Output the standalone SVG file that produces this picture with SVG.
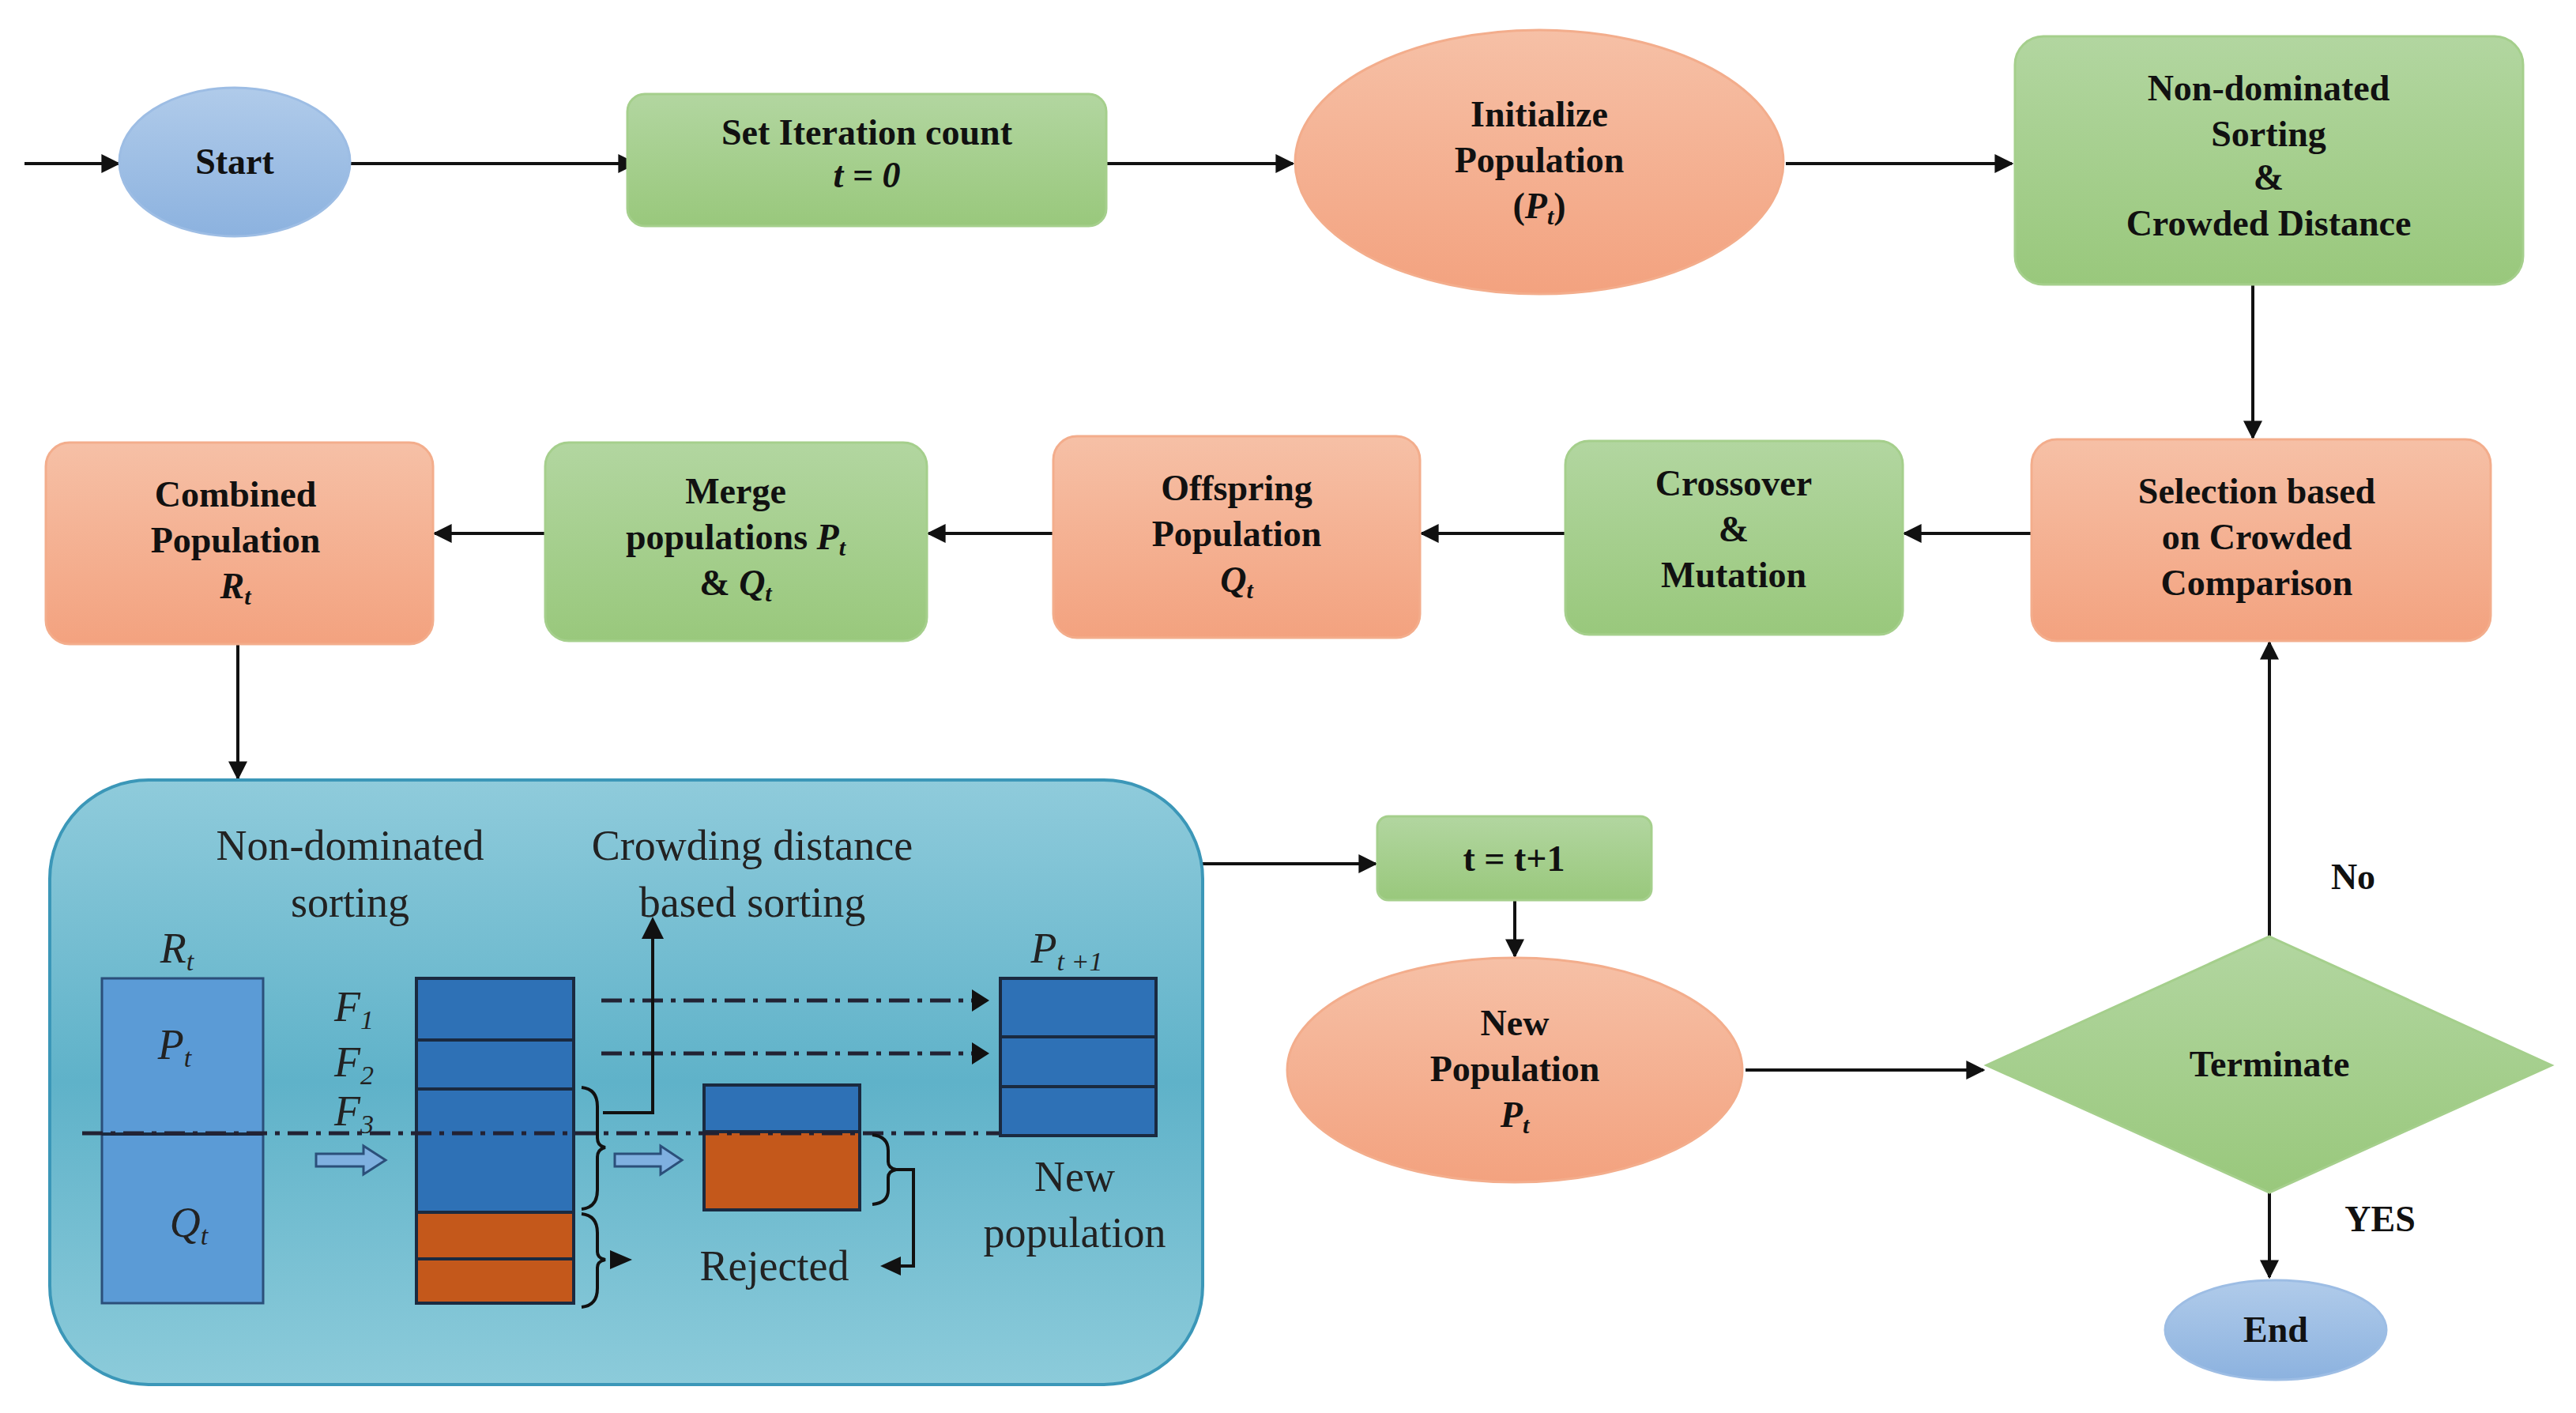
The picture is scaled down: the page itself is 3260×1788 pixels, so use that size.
<svg xmlns="http://www.w3.org/2000/svg" width="3260" height="1788" viewBox="0 0 3260 1788">
<defs>
<linearGradient id="gG" x1="0" y1="0" x2="0" y2="1"><stop offset="0" stop-color="#b2d6a0"/><stop offset="1" stop-color="#99c87c"/></linearGradient>
<linearGradient id="gO" x1="0" y1="0" x2="0" y2="1"><stop offset="0" stop-color="#f6c0a6"/><stop offset="1" stop-color="#f3a27f"/></linearGradient>
<linearGradient id="gB" x1="0" y1="0" x2="0" y2="1"><stop offset="0" stop-color="#b0cbea"/><stop offset="1" stop-color="#8cb2df"/></linearGradient>
<linearGradient id="gT" x1="0" y1="0" x2="0" y2="1"><stop offset="0" stop-color="#8fcbdb"/><stop offset="0.5" stop-color="#5fb2c9"/><stop offset="1" stop-color="#8ccbda"/></linearGradient>
<marker id="ah" markerWidth="10" markerHeight="10" refX="9" refY="5" orient="auto" markerUnits="userSpaceOnUse" viewBox="0 0 10 10"><path d="M0,0 L10,5 L0,10 z" fill="#111"/></marker>
<marker id="ah2" viewBox="0 0 10 10" refX="9" refY="5" markerWidth="24" markerHeight="28" orient="auto" markerUnits="userSpaceOnUse"><path d="M0,0 L10,5 L0,10 z" fill="#111"/></marker>
</defs>
<style>
.g{fill:url(#gG);stroke:#a5cf8c;stroke-width:3}
.o{fill:url(#gO);stroke:#f3ad8c;stroke-width:3}
.b{fill:url(#gB);stroke:#9dbde4;stroke-width:3}
.t{font-family:"Liberation Serif",serif;font-weight:bold;font-size:46px;fill:#111;text-anchor:middle}
.i{font-family:"Liberation Serif",serif;font-size:54px;fill:#222;text-anchor:middle}
.c{stroke:#111;stroke-width:4;fill:none;marker-end:url(#ah2)}
.dd{stroke:#223;stroke-width:5;fill:none;stroke-dasharray:26 10 6 10}
.br{stroke:#111;stroke-width:4;fill:none}
.db{fill:#2e71b6;stroke:#1a2a40;stroke-width:4}
.or{fill:#c4581b;stroke:#1a2a40;stroke-width:4}
.ba{fill:#7fb0e0;stroke:#2b4f7a;stroke-width:3}
</style>
<rect width="3260" height="1788" fill="#fff"/>
<g id="connectors">
<line class="c" x1="31" y1="207" x2="150" y2="207"/>
<line class="c" x1="444" y1="207" x2="804" y2="207"/>
<line class="c" x1="1400" y1="207" x2="1636" y2="207"/>
<line class="c" x1="2260" y1="207" x2="2546" y2="207"/>
<line class="c" x1="2851" y1="360" x2="2851" y2="554"/>
<line class="c" x1="2571" y1="675" x2="2410" y2="675"/>
<line class="c" x1="1981" y1="675" x2="1799" y2="675"/>
<line class="c" x1="1333" y1="675" x2="1175" y2="675"/>
<line class="c" x1="690" y1="675" x2="550" y2="675"/>
<line class="c" x1="301" y1="815" x2="301" y2="985"/>
<line class="c" x1="1522" y1="1093" x2="1741" y2="1093"/>
<line class="c" x1="1917" y1="1139" x2="1917" y2="1210"/>
<line class="c" x1="2209" y1="1354" x2="2510" y2="1354"/>
<line class="c" x1="2872" y1="1185" x2="2872" y2="813"/>
<line class="c" x1="2872" y1="1509" x2="2872" y2="1616"/>
</g>
<g id="start"><ellipse class="b" cx="297" cy="205" rx="146" ry="94"/><text class="t" x="297" y="220">Start</text></g>
<g id="setiter"><rect class="g" x="794" y="119" width="606" height="167" rx="22"/><text class="t" x="1097" y="183">Set Iteration count</text><text class="t" x="1097" y="237" font-style="italic">t = 0</text></g>
<g id="init"><ellipse class="o" cx="1948" cy="205" rx="309" ry="167"/><text class="t" x="1948" y="160">Initialize</text><text class="t" x="1948" y="218">Population</text><text class="t" x="1948" y="276">(<tspan font-style="italic">P<tspan font-size="30" dy="8">t</tspan></tspan><tspan dy="-8">)</tspan></text></g>
<g id="nds"><rect class="g" x="2550" y="46" width="643" height="314" rx="36"/><text class="t" x="2871" y="127">Non-dominated</text><text class="t" x="2871" y="185">Sorting</text><text class="t" x="2871" y="240">&amp;</text><text class="t" x="2871" y="298">Crowded Distance</text></g>
<g id="selection"><rect class="o" x="2571" y="556" width="581" height="255" rx="32"/><text class="t" x="2856" y="637">Selection based</text><text class="t" x="2856" y="695">on Crowded</text><text class="t" x="2856" y="753">Comparison</text></g>
<g id="crossover"><rect class="g" x="1981" y="558" width="427" height="245" rx="30"/><text class="t" x="2194" y="627">Crossover</text><text class="t" x="2194" y="685">&amp;</text><text class="t" x="2194" y="743">Mutation</text></g>
<g id="offspring"><rect class="o" x="1333" y="552" width="464" height="255" rx="30"/><text class="t" x="1565" y="633">Offspring</text><text class="t" x="1565" y="691">Population</text><text class="t" x="1565" y="749" font-style="italic">Q<tspan font-size="30" dy="8">t</tspan></text></g>
<g id="merge"><rect class="g" x="690" y="560" width="483" height="251" rx="30"/><text class="t" x="931" y="637">Merge</text><text class="t" x="931" y="695">populations <tspan font-style="italic">P<tspan font-size="30" dy="8">t</tspan></tspan></text><text class="t" x="931" y="753">&amp; <tspan font-style="italic">Q<tspan font-size="30" dy="8">t</tspan></tspan></text></g>
<g id="combined"><rect class="o" x="58" y="560" width="490" height="255" rx="30"/><text class="t" x="298" y="641">Combined</text><text class="t" x="298" y="699">Population</text><text class="t" x="298" y="757" font-style="italic">R<tspan font-size="30" dy="8">t</tspan></text></g>
<g id="sortingpanel">
<rect x="63" y="987" width="1459" height="765" rx="125" fill="url(#gT)" stroke="#3b97b8" stroke-width="4"/>
<text class="i" x="443" y="1088">Non-dominated</text><text class="i" x="443" y="1160">sorting</text>
<text class="i" x="952" y="1088">Crowding distance</text><text class="i" x="952" y="1160">based sorting</text>
<text class="i" x="224" y="1218" font-style="italic">R<tspan font-size="34" dy="10">t</tspan></text>
<text class="i" x="1350" y="1218" font-style="italic">P<tspan font-size="34" dy="10">t +1</tspan></text>
<rect x="129" y="1238" width="204" height="411" fill="#5b9bd6" stroke="#2b4f7a" stroke-width="3"/>
<line x1="129" y1="1435" x2="333" y2="1435" stroke="#1a2a40" stroke-width="4"/>
<text class="i" x="221" y="1340" font-style="italic">P<tspan font-size="34" dy="10">t</tspan></text>
<text class="i" x="239" y="1565" font-style="italic">Q<tspan font-size="34" dy="10">t</tspan></text>
<text class="i" x="448" y="1292" font-style="italic">F<tspan font-size="34" dy="10">1</tspan></text>
<text class="i" x="448" y="1362" font-style="italic">F<tspan font-size="34" dy="10">2</tspan></text>
<text class="i" x="448" y="1424" font-style="italic">F<tspan font-size="34" dy="10">3</tspan></text>
<rect class="db" x="527" y="1238" width="199" height="78"/>
<rect class="db" x="527" y="1316" width="199" height="62"/>
<rect class="db" x="527" y="1378" width="199" height="156"/>
<rect class="or" x="527" y="1534" width="199" height="59"/>
<rect class="or" x="527" y="1593" width="199" height="56"/>
<rect class="db" x="891" y="1373" width="197" height="59"/>
<rect class="or" x="891" y="1432" width="197" height="99"/>
<rect class="db" x="1266" y="1238" width="197" height="74"/>
<rect class="db" x="1266" y="1312" width="197" height="63"/>
<rect class="db" x="1266" y="1375" width="197" height="62"/>
<line class="dd" x1="104" y1="1434" x2="1264" y2="1434"/>
<line class="dd" x1="761" y1="1266" x2="1230" y2="1266"/>
<path d="M1230,1252 L1252,1266 L1230,1280 z" fill="#111"/>
<line class="dd" x1="761" y1="1333" x2="1230" y2="1333"/>
<path d="M1230,1319 L1252,1333 L1230,1347 z" fill="#111"/>
<path class="ba" d="M400,1460 L460,1460 L460,1450 L488,1468 L460,1486 L460,1476 L400,1476 z"/>
<path class="ba" d="M778,1460 L836,1460 L836,1450 L863,1468 L836,1486 L836,1476 L778,1476 z"/>
<path class="br" d="M736,1376 Q756,1378 756,1400 L756,1440 Q756,1450 766,1452 Q756,1454 756,1464 L756,1506 Q756,1528 736,1530"/>
<path class="br" d="M763,1408 L826,1408 L826,1186"/>
<path d="M812,1188 L826,1160 L840,1188 z" fill="#111"/>
<path class="br" d="M736,1536 Q756,1538 756,1560 L756,1584 Q756,1592 766,1594 Q756,1596 756,1604 L756,1630 Q756,1652 736,1654"/>
<path d="M772,1582 L800,1594 L772,1606 z" fill="#111"/>
<path class="br" d="M1104,1436 Q1124,1438 1124,1456 L1124,1470 Q1124,1478 1134,1480 Q1124,1482 1124,1490 L1124,1506 Q1124,1522 1104,1524"/>
<path class="br" d="M1134,1480 L1156,1480 L1156,1602 L1136,1602"/>
<path d="M1140,1590 L1114,1602 L1140,1614 z" fill="#111"/>
<text class="i" x="980" y="1620">Rejected</text>
<text class="i" x="1360" y="1507">New</text>
<text class="i" x="1360" y="1578">population</text>
</g>
<g id="tinc"><rect class="g" x="1743" y="1033" width="347" height="106" rx="14"/><text class="t" x="1916" y="1102">t = t+1</text></g>
<g id="newpop"><ellipse class="o" cx="1917" cy="1354" rx="288" ry="142"/><text class="t" x="1917" y="1310">New</text><text class="t" x="1917" y="1368">Population</text><text class="t" x="1917" y="1426" font-style="italic">P<tspan font-size="30" dy="8">t</tspan></text></g>
<g id="terminate"><path d="M2872,1185 L3229,1348 L2872,1509 L2514,1348 z" fill="url(#gG)" stroke="#a5cf8c" stroke-width="3"/><text class="t" x="2872" y="1362">Terminate</text></g>
<g id="labels"><text class="t" x="2978" y="1125" font-family="Liberation Sans,sans-serif" font-size="40">No</text><text class="t" x="3012" y="1558" font-family="Liberation Sans,sans-serif" font-size="40">YES</text></g>
<g id="end"><ellipse class="b" cx="2880" cy="1683" rx="140" ry="63"/><text class="t" x="2880" y="1698">End</text></g>
</svg>
